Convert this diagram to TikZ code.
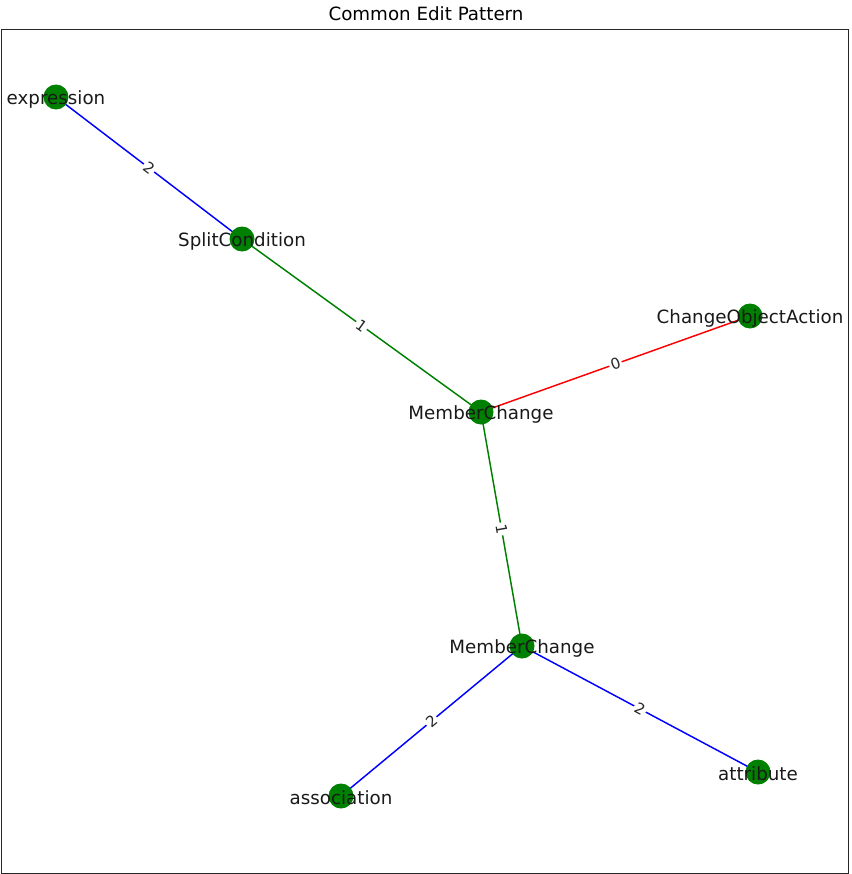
\documentclass[tikz,border=0pt]{standalone}
\usepackage{fontspec}
\setmainfont{DejaVu Sans}
\definecolor{nodegreen}{RGB}{0,128,0}
\begin{document}
\begin{tikzpicture}[x=0.75pt,y=-0.75pt,
  vertex/.style={circle,fill=nodegreen,inner sep=0pt,minimum size=18.75pt},
  vlabel/.style={font=\fontsize{13.7pt}{15pt}\selectfont,text=black!90,inner sep=0pt,yshift=-1.5pt},
  wlabel/.style={midway,sloped,fill=white,inner sep=1.2pt,text=black!85,font=\fontsize{11.3pt}{13pt}\selectfont},
  edge/.style={line width=1.1pt}]
\useasboundingbox (0,0) rectangle (852,874);
\draw[line width=0.7pt,black!85] (1,29) rectangle (848,873);
\node[font=\fontsize{13.7pt}{16pt}\selectfont,inner sep=0pt] (title) at (426,14) {Common Edit Pattern};

% node positions
\coordinate (pExpr) at (56,97);
\coordinate (pSplit) at (242,239);
\coordinate (pCOA) at (750,316);
\coordinate (pMC1) at (481,412);
\coordinate (pMC2) at (522,646);
\coordinate (pAssoc) at (341,796);
\coordinate (pAttr) at (758,772);

% edges
\draw[edge,blue] (pExpr) -- (pSplit);
\draw[edge,nodegreen] (pSplit) -- (pMC1);
\draw[edge,red] (pMC1) -- (pCOA);
\draw[edge,nodegreen] (pMC1) -- (pMC2);
\draw[edge,blue] (pMC2) -- (pAssoc);
\draw[edge,blue] (pMC2) -- (pAttr);

% vertices
\foreach \p in {pExpr,pSplit,pCOA,pMC1,pMC2,pAssoc,pAttr}
  \node[vertex] at (\p) {};

% vertex labels
\node[vlabel] (expr) at (pExpr) {expression};
\node[vlabel] (split) at (pSplit) {SplitCondition};
\node[vlabel] (coa) at (pCOA) {ChangeObjectAction};
\node[vlabel] (mc1) at (pMC1) {MemberChange};
\node[vlabel] (mc2) at (pMC2) {MemberChange};
\node[vlabel] (assoc) at (pAssoc) {association};
\node[vlabel] (attr) at (pAttr) {attribute};

% edge weights
\path (pExpr) -- node[wlabel] {2} (pSplit);
\path (pSplit) -- node[wlabel] {1} (pMC1);
\path (pMC1) -- node[wlabel] {0} (pCOA);
\path (pMC1) -- node[wlabel] {1} (pMC2);
\path (pMC2) -- node[wlabel] {2} (pAssoc);
\path (pMC2) -- node[wlabel] {2} (pAttr);
\end{tikzpicture}
\end{document}
